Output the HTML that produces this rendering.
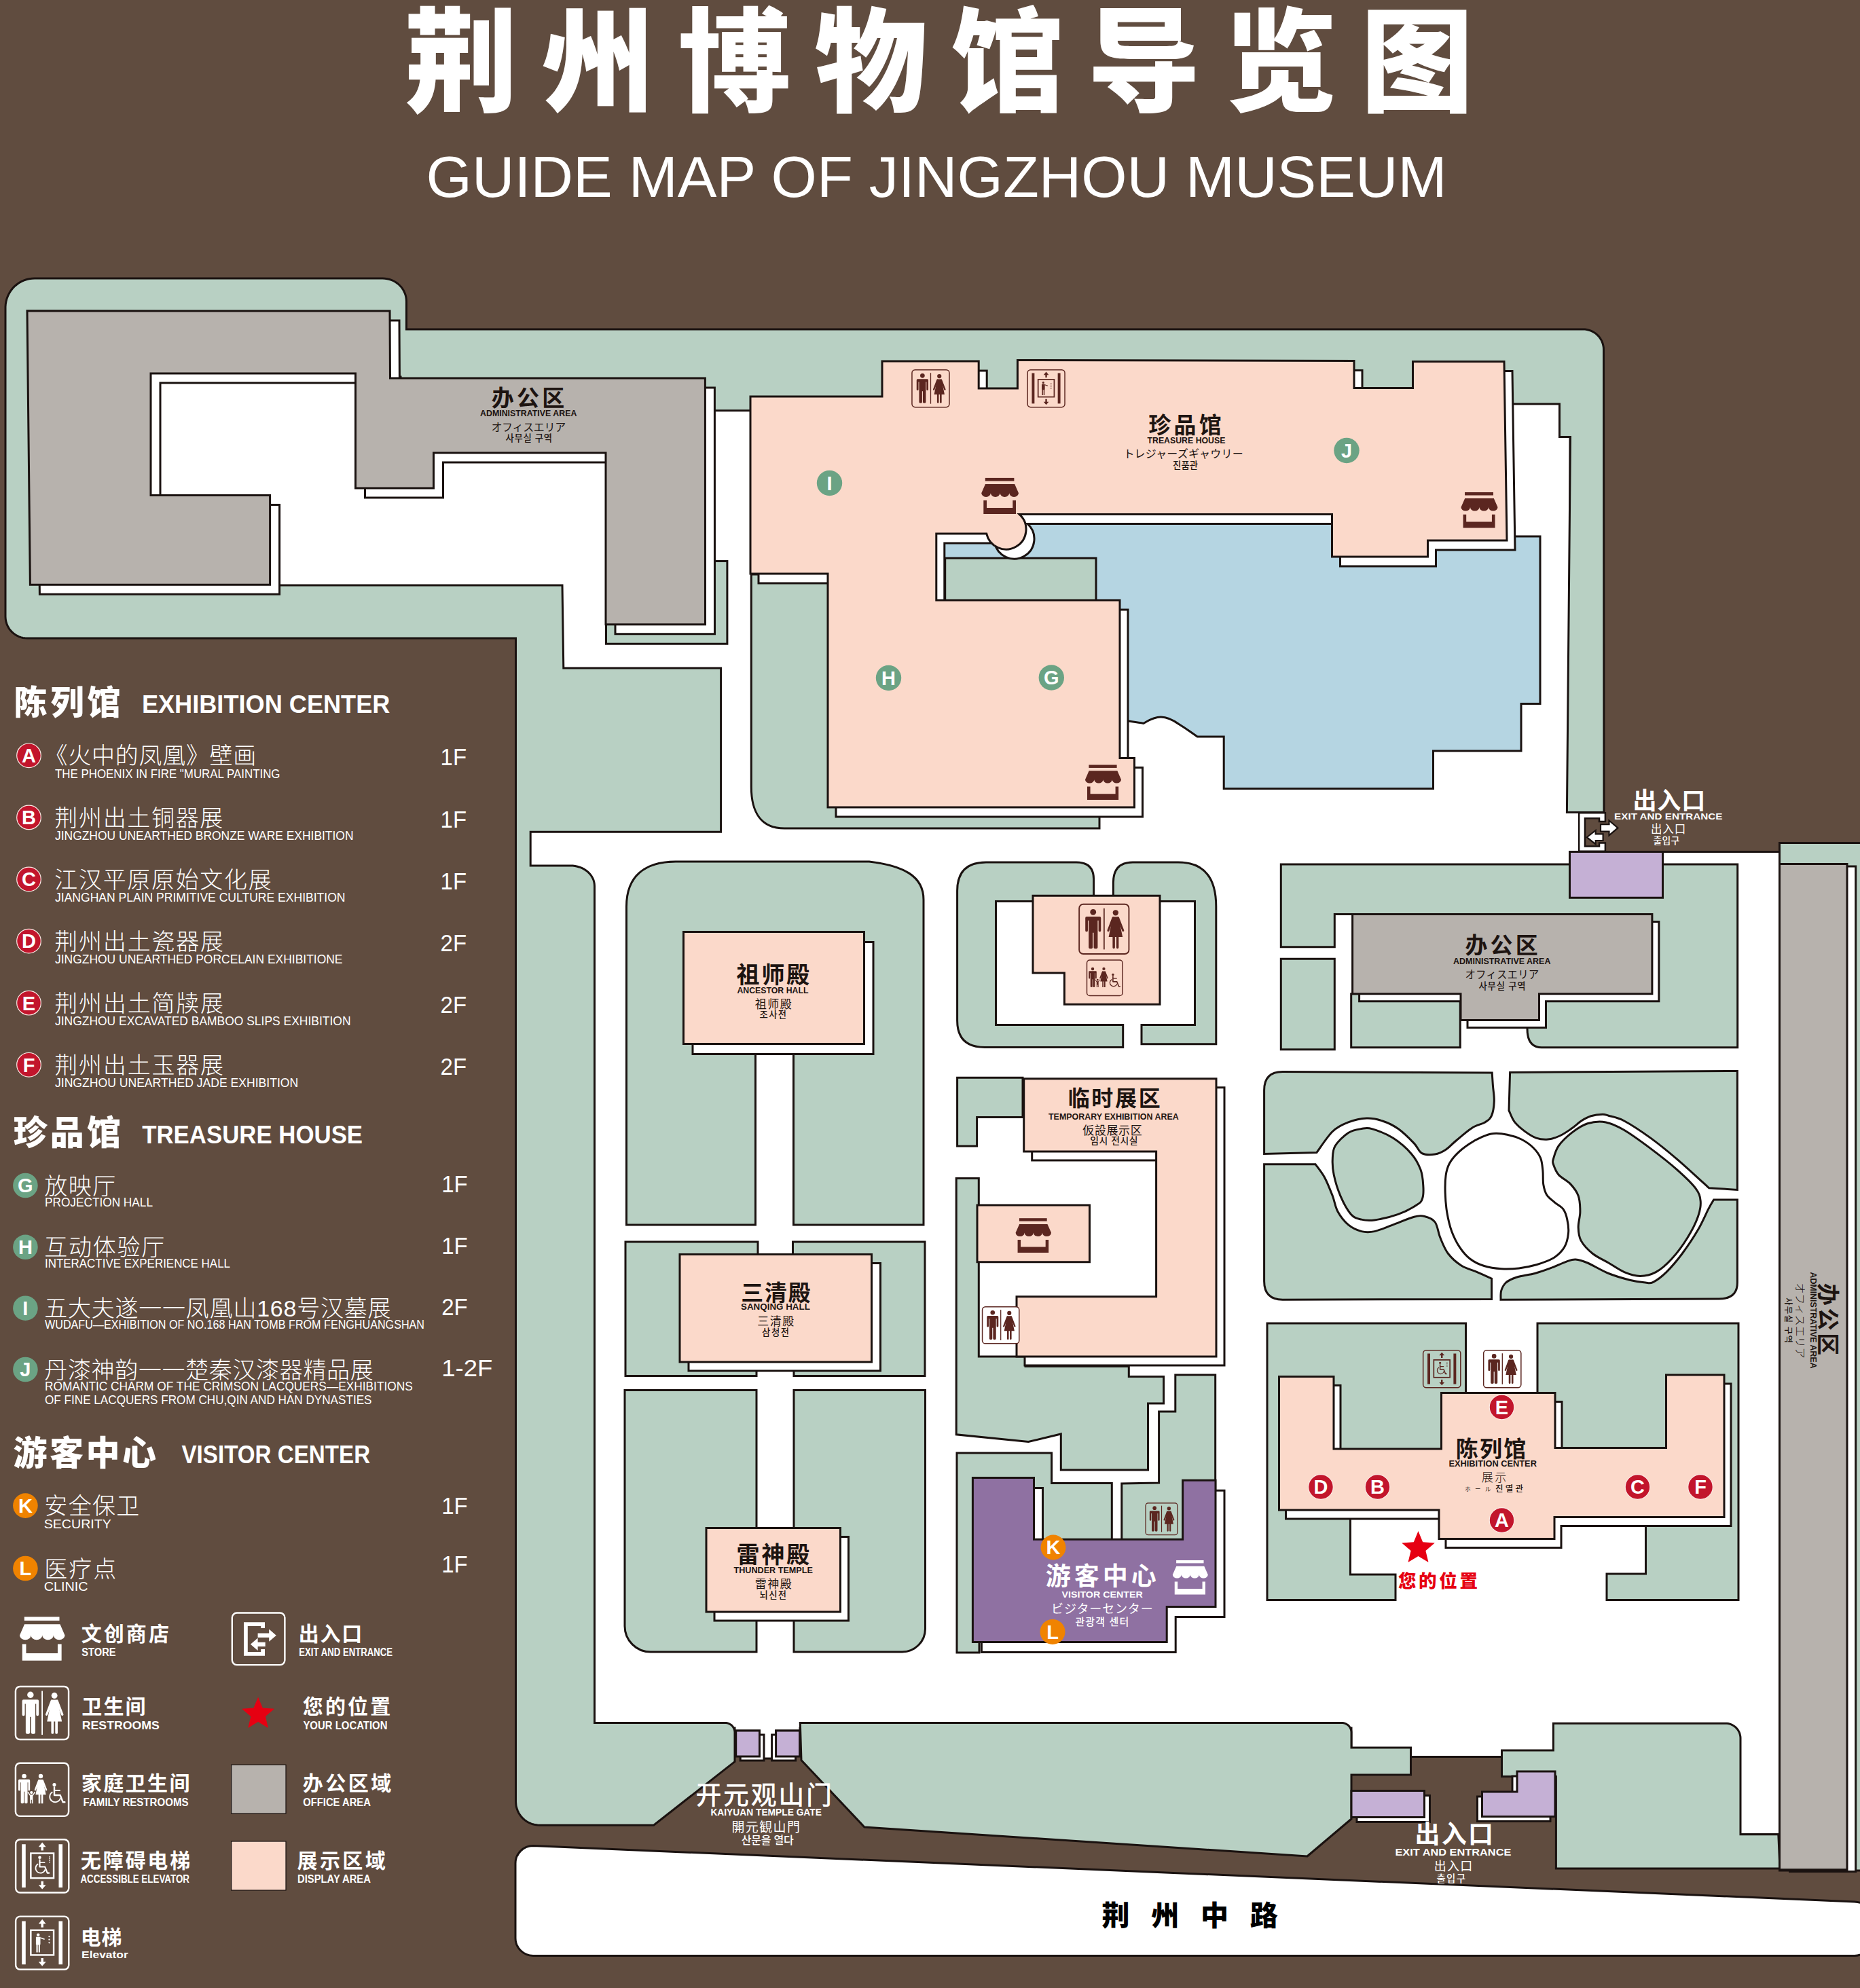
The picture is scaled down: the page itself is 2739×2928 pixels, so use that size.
<!DOCTYPE html>
<html lang="zh"><head><meta charset="utf-8"><title>荆州博物馆导览图</title>
<style>html,body{margin:0;padding:0;background:#604c3f}svg{display:block}text{font-family:"Liberation Sans","Noto Sans CJK SC",sans-serif}
.jp{font-family:"Liberation Sans","Noto Sans CJK JP",sans-serif}.kr{font-family:"Liberation Sans","Noto Sans CJK KR",sans-serif}</style></head>
<body><svg width="2739" height="2928" viewBox="0 0 2739 2928">
<rect width="2739" height="2928" fill="#604c3f"/>
<path d="M825.0,990.0 L1055.0,990.0 L1055.0,1215.0 L770.0,1215.0 L770.0,2545.0 L1082.0,2545.0 L1082.0,2549.0 L1118.5,2549.0 L1118.5,2590.0 L1142.6,2590.0 L1142.6,2549.0 L1178.0,2549.0 L1178.0,2545.0 L1990.0,2545.0 L1990.0,2587.5 L2288.0,2587.5 L2288.0,2545.0 L2300.0,2545.0 L2330.0,2545.0 L2555.0,2545.0 L2555.0,2701.7 L2625.0,2701.7 L2625.0,2545.0 L2630.0,2545.0 L2630.0,1254.5 L2330.0,1254.5 L2330.0,1215.0 L2330.0,1196.5 L2312.0,1196.5 L2312.0,590.0 L1110.0,590.0 L1110.0,550.0 L225.0,550.0 L225.0,870.0 L825.0,870.0Z" fill="#fff" stroke="#1a1210" stroke-width="3" stroke-linejoin="miter" fill-rule="evenodd"/>
<path d="M1110.0,604.8 L1110.0,595.0 L2296.5,595.0 L2296.5,643.5 L2312.5,643.5 L2307.4,1196.5 L2362.0,1196.5 L2361.5,515.0 L2361.4,512.0 L2360.9,509.1 L2360.2,506.2 L2359.2,503.4 L2357.9,500.7 L2356.3,498.2 L2354.6,495.8 L2352.5,493.6 L2350.3,491.6 L2347.9,489.9 L2345.3,488.4 L2342.6,487.1 L2339.8,486.2 L2336.9,485.5 L2334.0,485.1 L2331.0,485.0 L598.5,485.0 L598.5,444.0 L598.3,440.7 L597.8,437.4 L597.0,434.1 L595.8,431.0 L594.4,428.0 L592.6,425.1 L590.6,422.4 L588.2,420.0 L585.7,417.7 L582.9,415.7 L580.0,414.0 L576.9,412.6 L573.7,411.5 L570.3,410.7 L566.9,410.2 L563.5,410.0 L51.0,410.0 L46.8,410.2 L42.7,410.8 L38.7,411.8 L34.8,413.2 L31.0,414.9 L27.4,417.0 L24.1,419.5 L20.9,422.2 L18.1,425.3 L15.6,428.6 L13.4,432.1 L11.6,435.9 L10.1,439.7 L9.0,443.8 L8.3,447.9 L8.0,452.0 L8.0,908.0 L8.2,911.1 L8.6,914.2 L9.4,917.3 L10.4,920.2 L11.8,923.1 L13.4,925.8 L15.3,928.3 L17.4,930.6 L19.7,932.7 L22.2,934.6 L24.9,936.2 L27.8,937.6 L30.7,938.6 L33.8,939.4 L36.9,939.8 L40.0,940.0 L590.0,940.0 L598.0,940.0 L759.5,940.0 L759.5,2653.0 L759.7,2656.5 L760.1,2659.9 L761.0,2663.3 L762.2,2666.6 L763.6,2669.7 L765.4,2672.7 L767.5,2675.5 L769.9,2678.1 L772.4,2680.4 L775.3,2682.4 L778.2,2684.2 L781.4,2685.7 L784.7,2686.8 L788.1,2687.6 L791.5,2688.1 L795.0,2688.2 L962.6,2688.2 L1082.0,2594.6 L1082.0,2551.5 L1081.9,2550.1 L1081.7,2548.8 L1081.4,2547.4 L1080.9,2546.1 L1080.3,2544.9 L1079.6,2543.7 L1078.8,2542.6 L1077.9,2541.6 L1076.9,2540.7 L1075.8,2539.9 L1074.6,2539.2 L1073.4,2538.6 L1072.1,2538.1 L1070.7,2537.8 L1069.4,2537.6 L1068.0,2537.5 L875.5,2537.5 L875.5,1305.0 L875.3,1302.0 L874.8,1299.1 L874.0,1296.2 L872.8,1293.4 L871.3,1290.7 L869.5,1288.2 L867.4,1285.8 L865.1,1283.6 L862.5,1281.7 L859.7,1279.9 L856.7,1278.4 L853.5,1277.2 L850.3,1276.2 L846.9,1275.5 L843.5,1275.1 L840.0,1275.0 L781.2,1275.0 L781.2,1225.3 L1061.6,1225.3 L1061.6,984.0 L829.8,984.0 L828.0,862.0 L598.0,862.0 L590.0,862.0 L393.0,862.0 L393.0,735.0 L230.0,735.0 L230.0,555.0 L590.0,555.0 L590.0,595.0 L1040.0,595.0 L1040.0,604.8Z" fill="#b8d0c3" stroke="#1a1210" stroke-width="3" stroke-linejoin="miter" fill-rule="evenodd"/>
<path d="M2750.0,1241.5 L2620.5,1241.5 L2620.5,2740.6 L2618.8,2701.7 L2563.0,2701.7 L2563.0,2560.0 L2562.9,2557.9 L2562.5,2555.7 L2562.0,2553.7 L2561.3,2551.6 L2560.3,2549.7 L2559.2,2547.9 L2557.9,2546.2 L2556.5,2544.6 L2554.9,2543.1 L2553.2,2541.9 L2551.3,2540.8 L2549.4,2539.9 L2547.4,2539.1 L2545.3,2538.6 L2543.1,2538.3 L2541.0,2538.2 L2287.4,2538.2 L2287.4,2578.0 L2211.5,2578.0 L2211.5,2616.5 L2291.4,2616.5 L2291.4,2752.0 L2620.5,2752.0 L2620.5,2755.0 L2750.0,2755.0Z" fill="#b8d0c3" stroke="#1a1210" stroke-width="3" stroke-linejoin="miter" fill-rule="evenodd"/>
<path d="M1925.0,2734.0 L1990.0,2679.0 L1990.0,2614.0 L2077.5,2614.0 L2077.5,2574.0 L1990.0,2574.0 L1990.0,2551.5 L1989.9,2550.1 L1989.7,2548.8 L1989.4,2547.4 L1988.9,2546.1 L1988.3,2544.9 L1987.6,2543.7 L1986.8,2542.6 L1985.9,2541.6 L1984.9,2540.7 L1983.8,2539.9 L1982.6,2539.2 L1981.4,2538.6 L1980.1,2538.1 L1978.7,2537.8 L1977.4,2537.6 L1976.0,2537.5 L1178.3,2537.5 L1180.0,2592.5 L1272.9,2691.0Z" fill="#b8d0c3" stroke="#1a1210" stroke-width="3" stroke-linejoin="miter" fill-rule="evenodd"/>
<path d="M892.5,826.5 L1070.9,826.5 L1070.9,948.3 L892.5,948.3Z" fill="#b8d0c3" stroke="#1a1210" stroke-width="3" />
<path d="M1106.3,846 V1159 C1106.3,1195 1120,1220 1155,1220 H1619 V1195 H1235 V846 Z" fill="#b8d0c3" stroke="#1a1210" stroke-width="3" />
<path d="M1886.3,1272.9 H2558.7 V1542.7 H2270 Q2249,1542.7 2249,1515 V1400 H2000 V1346.5 H1965.3 V1394.8 H1886.3 Z" fill="#b8d0c3" stroke="#1a1210" stroke-width="3" />
<path d="M1886.3,1412.3 L1965.3,1412.3 L1965.3,1545.8 L1886.3,1545.8Z" fill="#b8d0c3" stroke="#1a1210" stroke-width="3" />
<path d="M1989.7,1463.7 L2150.3,1463.7 L2150.3,1542.7 L1989.7,1542.7Z" fill="#b8d0c3" stroke="#1a1210" stroke-width="3" />
<path d="M1861.6,1699.4 L1861.6,1605.7 Q1861.6,1578.6 1888.7,1578.6 L2197.2,1580.1 C2197.4,1583.2 2197.9,1591.7 2198.4,1598.7 C2198.9,1605.7 2200.6,1614.5 2200.3,1621.9 C2200.0,1629.4 2198.7,1638.1 2196.5,1643.2 C2194.2,1648.4 2191.6,1649.9 2186.8,1652.9 C2181.9,1655.9 2174.5,1656.9 2167.4,1661.4 C2160.3,1665.9 2150.6,1674.6 2144.2,1680.0 C2137.7,1685.4 2133.9,1690.2 2128.7,1693.6 C2123.6,1696.9 2119.0,1699.3 2113.2,1700.1 C2107.4,1701.0 2099.0,1701.3 2093.9,1698.6 C2088.7,1695.9 2088.1,1689.9 2082.3,1683.9 C2076.5,1677.9 2066.8,1668.1 2059.0,1662.6 C2051.3,1657.1 2043.6,1653.5 2035.8,1651.0 C2028.1,1648.4 2021.0,1646.8 2012.6,1647.1 C2004.2,1647.4 1993.9,1649.7 1985.5,1652.9 C1977.1,1656.1 1970.0,1659.0 1962.3,1666.5 C1954.5,1673.9 1942.9,1692.3 1939.0,1697.4 L1861.6,1699.4 Z" fill="#b8d0c3" stroke="#1a1210" stroke-width="3" />
<path d="M1966.1,1687.7 C1970.0,1681.3 1979.0,1672.6 1985.5,1668.4 C1991.9,1664.2 1999.0,1663.5 2004.8,1662.6 C2010.6,1661.6 2012.6,1660.3 2020.3,1662.6 C2028.1,1664.8 2041.6,1670.0 2051.3,1676.1 C2061.0,1682.3 2071.6,1691.6 2078.4,1699.4 C2085.2,1707.1 2089.0,1714.8 2091.9,1722.6 C2094.8,1730.3 2095.4,1738.7 2095.8,1745.8 C2096.3,1752.9 2096.3,1760.3 2094.6,1765.2 C2093.0,1770.0 2092.1,1771.0 2086.1,1774.8 C2080.2,1778.7 2069.4,1784.7 2059.0,1788.4 C2048.7,1792.1 2033.2,1795.6 2024.2,1796.9 C2015.2,1798.2 2010.6,1797.6 2004.8,1796.1 C1999.0,1794.7 1994.5,1794.2 1989.4,1788.4 C1984.2,1782.6 1978.1,1771.0 1973.9,1761.3 C1969.7,1751.6 1966.1,1739.4 1964.2,1730.3 C1962.3,1721.3 1961.9,1714.2 1962.3,1707.1 C1962.6,1700.0 1962.3,1694.2 1966.1,1687.7Z" fill="#b8d0c3" stroke="#1a1210" stroke-width="3" />
<path d="M1861.6,1714.8 L1937.1,1714.8 C1939.4,1718.1 1946.5,1726.5 1950.6,1734.2 C1954.8,1741.9 1959.0,1752.9 1962.3,1761.3 C1965.5,1769.7 1966.1,1777.4 1970.0,1784.5 C1973.9,1791.6 1979.7,1799.0 1985.5,1803.9 C1991.3,1808.7 1998.4,1811.9 2004.8,1813.6 C2011.3,1815.2 2016.5,1815.2 2024.2,1813.6 C2031.9,1811.9 2041.6,1807.4 2051.3,1803.9 C2061.0,1800.3 2074.5,1794.3 2082.3,1792.3 C2090.0,1790.2 2092.6,1790.2 2097.7,1791.5 C2102.9,1792.8 2109.4,1794.7 2113.2,1800.0 C2117.1,1805.3 2117.7,1815.5 2121.0,1823.2 C2124.2,1831.0 2127.4,1839.7 2132.6,1846.5 C2137.7,1853.2 2144.8,1859.4 2151.9,1863.9 C2159.0,1868.4 2167.7,1870.3 2175.2,1873.6 C2182.6,1876.8 2192.9,1881.6 2196.5,1883.2 L2196.5,1913.4 L1888.7,1914.2 Q1861.6,1914.2 1861.6,1887.1 Z" fill="#b8d0c3" stroke="#1a1210" stroke-width="3" />
<path d="M2223.6,1579.4 L2558.4,1577.4 L2558.4,1752.4 L2516.6,1749.7 C2515.2,1748.4 2515.9,1749.0 2508.1,1741.9 C2500.2,1734.8 2482.3,1718.1 2469.4,1707.1 C2456.5,1696.1 2443.6,1685.5 2430.7,1676.1 C2417.7,1666.8 2402.3,1656.5 2391.9,1651.0 C2381.6,1645.5 2374.1,1644.8 2368.7,1643.2 C2363.4,1641.6 2364.1,1641.2 2359.8,1641.3 C2355.5,1641.4 2347.9,1642.3 2342.8,1643.8 C2337.7,1645.4 2334.1,1647.5 2329.2,1650.6 C2324.4,1653.7 2319.2,1658.8 2313.7,1662.6 C2308.3,1666.3 2302.4,1670.5 2296.7,1673.0 C2291.0,1675.6 2285.4,1677.5 2279.7,1678.1 C2273.9,1678.6 2268.0,1678.1 2262.3,1676.1 C2256.5,1674.1 2250.6,1670.1 2245.2,1666.1 C2239.9,1662.1 2234.0,1657.2 2230.1,1652.1 C2226.3,1647.0 2223.4,1638.3 2222.0,1635.5 Z" fill="#b8d0c3" stroke="#1a1210" stroke-width="3" />
<path d="M2287.4,1707.1 C2288.7,1702.6 2290.7,1694.2 2295.2,1687.7 C2299.7,1681.3 2307.4,1673.9 2314.5,1668.4 C2321.6,1662.9 2329.4,1657.4 2337.7,1654.8 C2346.1,1652.3 2355.8,1651.3 2364.8,1652.9 C2373.9,1654.5 2381.0,1658.1 2391.9,1664.5 C2402.9,1671.0 2417.7,1681.9 2430.7,1691.6 C2443.6,1701.3 2458.4,1712.9 2469.4,1722.6 C2480.3,1732.3 2490.7,1741.9 2496.5,1749.7 C2502.3,1757.4 2503.6,1761.9 2504.2,1769.0 C2504.8,1776.1 2503.6,1783.2 2500.3,1792.3 C2497.1,1801.3 2491.3,1812.9 2484.8,1823.2 C2478.4,1833.6 2469.4,1845.8 2461.6,1854.2 C2453.9,1862.6 2446.1,1869.4 2438.4,1873.6 C2430.7,1877.7 2422.9,1879.4 2415.2,1879.4 C2407.4,1879.4 2399.7,1876.8 2391.9,1873.6 C2384.2,1870.3 2376.5,1864.5 2368.7,1860.0 C2361.0,1855.5 2352.3,1851.9 2345.5,1846.5 C2338.7,1841.0 2331.6,1833.6 2328.1,1827.1 C2324.5,1820.6 2324.4,1814.8 2324.2,1807.7 C2324.0,1800.6 2326.9,1792.3 2326.9,1784.5 C2326.9,1776.8 2326.6,1768.1 2324.2,1761.3 C2321.8,1754.5 2317.4,1749.0 2312.6,1743.9 C2307.7,1738.7 2299.4,1735.2 2295.2,1730.3 C2291.0,1725.5 2288.7,1718.7 2287.4,1714.8 C2286.1,1711.0 2286.1,1711.6 2287.4,1707.1Z" fill="#b8d0c3" stroke="#1a1210" stroke-width="3" />
<path d="M2210.0,1914.2 C2210.1,1911.9 2209.5,1904.8 2210.8,1900.6 C2212.1,1896.5 2214.0,1892.3 2217.7,1889.0 C2221.5,1885.8 2226.1,1883.6 2233.2,1881.3 C2240.3,1879.0 2251.9,1877.7 2260.3,1875.5 C2268.7,1873.2 2275.8,1870.6 2283.6,1867.7 C2291.3,1864.8 2300.7,1860.2 2306.8,1858.1 C2312.9,1855.9 2315.2,1854.6 2320.3,1855.0 C2325.5,1855.3 2329.7,1856.6 2337.7,1860.0 C2345.8,1863.4 2358.4,1871.3 2368.7,1875.5 C2379.0,1879.7 2390.7,1882.9 2399.7,1885.2 C2408.7,1887.4 2417.1,1888.5 2422.9,1889.0 C2428.7,1889.6 2429.4,1890.8 2434.5,1888.3 C2439.7,1885.7 2446.8,1880.5 2453.9,1873.6 C2461.0,1866.6 2469.4,1856.8 2477.1,1846.5 C2484.8,1836.1 2493.9,1822.6 2500.3,1811.6 C2506.8,1800.6 2511.9,1788.1 2515.8,1780.6 C2519.7,1773.2 2522.3,1769.4 2523.6,1767.1 L2558.4,1767.1 L2558.4,1889.0 Q2558.4,1913.0 2531.3,1913.0 Z" fill="#b8d0c3" stroke="#1a1210" stroke-width="3" />
<path d="M1866.0,1949.0 L2158.5,1949.0 L2158.5,2230.0 L1988.5,2230.0 L1988.5,2319.0 L2055.0,2319.0 L2055.0,2356.5 L1866.0,2356.5Z" fill="#b8d0c3" stroke="#1a1210" stroke-width="3" />
<path d="M2264.0,1949.0 L2560.0,1949.0 L2560.0,2356.5 L2366.0,2356.5 L2366.0,2318.0 L2423.5,2318.0 L2423.5,2238.0 L2264.0,2238.0Z" fill="#b8d0c3" stroke="#1a1210" stroke-width="3" />
<path d="M922.5,1804 V1335 C922.5,1290 950,1269 995,1269 H1280 C1330,1275 1360,1290 1360,1325 V1804 H1168.5 V1545 H1112.5 V1804 Z" fill="#b8d0c3" stroke="#1a1210" stroke-width="3" />
<path d="M921,1829 H1116 V1855 H1167.5 V1829 H1362 V2026.5 H1169 V2010 H1114 V2026.5 H921 Z" fill="#b8d0c3" stroke="#1a1210" stroke-width="3" />
<path d="M920,2047.5 H1114 V2433 H958 A38,38 0 0 1 920,2395 Z" fill="#b8d0c3" stroke="#1a1210" stroke-width="3" />
<path d="M1169,2047.5 H1362.5 V2399 A34,34 0 0 1 1328.5,2433 H1169 Z" fill="#b8d0c3" stroke="#1a1210" stroke-width="3" />
<path d="M1466.5,1327.4 H1610.6 V1295 Q1610.6,1270 1585,1270 H1452 Q1409.6,1270 1409.6,1312 V1503 Q1409.6,1542.4 1450,1542.4 H1653.7 V1509.4 H1466.5 Z" fill="#b8d0c3" stroke="#1a1210" stroke-width="3" />
<path d="M1639.4,1327.4 V1300 Q1639.4,1270 1668,1270 H1735 Q1790.8,1270 1790.8,1335 V1537.8 H1681 V1509.4 H1759.5 V1327.4 Z" fill="#b8d0c3" stroke="#1a1210" stroke-width="3" />
<path d="M1409.6,1587.3 L1506.0,1587.3 L1506.0,1645.4 L1438.6,1645.4 L1438.6,1688.0 L1409.6,1688.0Z" fill="#b8d0c3" stroke="#1a1210" stroke-width="3" />
<path d="M1408.2,1735.6 L1441.3,1735.6 L1441.3,1998.0 L1510.0,1998.0 L1510.0,2012.5 L1662.3,2012.5 L1662.3,2027.6 L1713.6,2027.6 L1713.6,2067.0 L1690.5,2067.0 L1690.5,2165.0 L1562.3,2165.0 L1562.3,2112.0 L1514.4,2123.5 L1408.2,2112.8Z" fill="#b8d0c3" stroke="#1a1210" stroke-width="3" />
<path d="M1730.8,2025.0 L1789.7,2025.0 L1789.7,2270.0 L1651.8,2270.0 L1651.8,2185.0 L1706.6,2184.0 L1706.6,2079.0 L1730.8,2079.0Z" fill="#b8d0c3" stroke="#1a1210" stroke-width="3" />
<path d="M1409.0,2140.0 L1548.6,2140.0 L1548.6,2184.5 L1637.3,2184.5 L1637.3,2270.0 L1442.0,2270.0 L1442.0,2434.0 L1409.0,2434.0Z" fill="#b8d0c3" stroke="#1a1210" stroke-width="3" />
<path d="M2199.2,1669.5 C2205.5,1668.9 2212.9,1669.8 2219.7,1671.2 C2226.6,1672.6 2234.0,1674.9 2240.3,1678.0 C2246.5,1681.2 2252.7,1685.4 2257.4,1690.0 C2262.1,1694.6 2266.1,1699.7 2268.5,1705.4 C2270.9,1711.1 2271.2,1717.7 2271.9,1724.2 C2272.6,1730.8 2271.8,1738.8 2272.8,1744.7 C2273.8,1750.7 2275.0,1755.7 2277.9,1760.1 C2280.8,1764.6 2285.9,1767.8 2289.9,1771.3 C2293.9,1774.7 2298.9,1776.5 2301.8,1780.7 C2304.8,1784.8 2306.6,1790.1 2307.8,1796.1 C2309.1,1802.0 2310.3,1809.7 2309.5,1816.6 C2308.8,1823.4 2307.1,1831.1 2303.6,1837.1 C2300.0,1843.1 2295.0,1848.2 2288.2,1852.5 C2281.3,1856.8 2271.1,1860.2 2262.5,1862.8 C2254.0,1865.3 2245.4,1866.9 2236.8,1867.9 C2228.3,1868.9 2219.7,1869.3 2211.2,1868.8 C2202.6,1868.2 2193.2,1866.9 2185.5,1864.5 C2177.8,1862.1 2171.0,1858.8 2165.0,1854.2 C2159.0,1849.7 2154.2,1844.0 2149.6,1837.1 C2145.0,1830.3 2140.8,1821.7 2137.6,1813.2 C2134.5,1804.6 2132.4,1795.2 2130.8,1785.8 C2129.2,1776.4 2128.5,1765.8 2128.2,1756.7 C2127.9,1747.6 2128.1,1738.2 2129.1,1731.1 C2130.1,1723.9 2131.4,1719.4 2134.2,1714.0 C2137.1,1708.5 2141.3,1703.4 2146.2,1698.6 C2151.0,1693.7 2157.3,1688.9 2163.3,1684.9 C2169.3,1680.9 2176.1,1677.2 2182.1,1674.6 C2188.1,1672.0 2192.9,1670.0 2199.2,1669.5Z" fill="#fff" stroke="#1a1210" stroke-width="3" />
<path d="M1385,765 H2225 V790 H2268 V1036.5 H2240 V1106 H2110.5 V1161.5 H1802.2 V1085 H1763.2 C1750,1076 1745,1072 1736.3,1066.8 C1727,1060 1718,1056 1709.5,1056 C1698,1056 1690,1062 1684,1065.4 C1676,1064 1668,1063 1661,1062 H1650 V900 H1385 Z" fill="#b5d5e2" stroke="#1a1210" stroke-width="3" />
<path d="M1391.7,822.0 L1614.0,822.0 L1614.0,890.0 L1391.7,890.0Z" fill="#b8d0c3" stroke="#1a1210" stroke-width="3" />
<path d="M785,2718.6 L2731,2800.9 Q2739,2801.2 2745,2805 V2876 Q2739,2880.4 2731,2880.4 H785 A26,26 0 0 1 759,2854.4 V2744.5 A26,26 0 0 1 785,2718.6 Z" fill="#fff" stroke="#1a1210" stroke-width="3" />
<path d="M54.0,471.8 L588.0,472.0 L588.5,571.0 L1052.4,571.0 L1052.5,933.8 L906.0,933.8 L906.0,681.0 L652.5,681.0 L652.5,733.0 L537.5,733.0 L537.5,564.0 L236.0,564.0 L236.0,743.5 L411.6,743.5 L411.6,875.3 L58.4,875.3Z" fill="#fff" stroke="#1a1210" stroke-width="3" />
<path d="M40.0,457.8 L574.0,458.0 L574.5,557.0 L1038.4,557.0 L1038.5,919.8 L892.0,919.8 L892.0,667.0 L638.5,667.0 L638.5,719.0 L523.5,719.0 L523.5,550.0 L222.0,550.0 L222.0,729.5 L397.6,729.5 L397.6,861.3 L44.4,861.3Z" fill="#b7b2ad" stroke="#1a1210" stroke-width="3" />
<path d="M1117.0,598.0 L1311.0,598.0 L1311.0,546.0 L1453.2,546.0 L1453.2,586.0 L1510.4,586.0 L1510.4,544.5 L2006.0,545.5 L2006.0,585.5 L2092.5,585.5 L2092.5,546.5 L2227.0,546.5 L2231.0,810.0 L2114.5,810.0 L2114.5,834.0 L1973.5,834.0 L1973.5,771.6 L1513.2,771.6 A29.5,29.5 0 1 1 1464.7,799.9 L1390.8,799.9 L1390.8,898.0 L1661.0,898.0 L1661.0,1130.5 L1682.5,1130.5 L1682.5,1203.0 L1231.0,1203.0 L1231.0,859.0 L1117.0,859.0Z" fill="#fff" stroke="#1a1210" stroke-width="3" />
<path d="M1105.0,584.0 L1299.0,584.0 L1299.0,532.0 L1441.2,532.0 L1441.2,572.0 L1498.4,572.0 L1498.4,530.5 L1994.0,531.5 L1994.0,571.5 L2080.5,571.5 L2080.5,532.5 L2215.0,532.5 L2219.0,796.0 L2102.5,796.0 L2102.5,820.0 L1961.5,820.0 L1961.5,757.6 L1501.2,757.6 A29.5,29.5 0 1 1 1452.7,785.9 L1378.8,785.9 L1378.8,884.0 L1649.0,884.0 L1649.0,1116.5 L1670.5,1116.5 L1670.5,1189.0 L1219.0,1189.0 L1219.0,845.0 L1105.0,845.0Z" fill="#fbd9ca" stroke="#1a1210" stroke-width="3" />
<path d="M2001.6,1357.5 L2442.9,1357.5 L2442.9,1474.7 L2276.5,1474.7 L2276.5,1513.5 L2161.0,1513.5 L2161.0,1474.7 L2001.6,1474.7Z" fill="#fff" stroke="#1a1210" stroke-width="3" />
<path d="M1991.6,1346.5 L2432.9,1346.5 L2432.9,1463.7 L2266.5,1463.7 L2266.5,1502.5 L2151.0,1502.5 L2151.0,1463.7 L1991.6,1463.7Z" fill="#b7b2ad" stroke="#1a1210" stroke-width="3" />
<path d="M2635.5,1276.0 L2732.7,1276.0 L2732.7,2756.5 L2635.5,2756.5Z" fill="#fff" stroke="#1a1210" stroke-width="3" />
<path d="M2620.5,1272.5 L2720.0,1272.5 L2720.0,2753.8 L2620.5,2753.8Z" fill="#b7b2ad" stroke="#1a1210" stroke-width="3" />
<path d="M1020.0,1387.5 L1286.0,1387.5 L1286.0,1552.5 L1020.0,1552.5Z" fill="#fff" stroke="#1a1210" stroke-width="3" />
<path d="M1006.5,1372.5 L1272.5,1372.5 L1272.5,1537.5 L1006.5,1537.5Z" fill="#fbd9ca" stroke="#1a1210" stroke-width="3" />
<path d="M1014.0,1860.5 L1296.5,1860.5 L1296.5,2019.0 L1014.0,2019.0Z" fill="#fff" stroke="#1a1210" stroke-width="3" />
<path d="M1001.0,1847.5 L1283.5,1847.5 L1283.5,2006.0 L1001.0,2006.0Z" fill="#fbd9ca" stroke="#1a1210" stroke-width="3" />
<path d="M1052.0,2263.5 L1249.5,2263.5 L1249.5,2387.0 L1052.0,2387.0Z" fill="#fff" stroke="#1a1210" stroke-width="3" />
<path d="M1040.0,2250.5 L1237.5,2250.5 L1237.5,2374.0 L1040.0,2374.0Z" fill="#fbd9ca" stroke="#1a1210" stroke-width="3" />
<path d="M1521.0,1319.3 L1708.0,1319.3 L1708.0,1479.2 L1567.4,1479.2 L1567.4,1433.0 L1521.0,1433.0Z" fill="#fbd9ca" stroke="#1a1210" stroke-width="3" />
<path d="M1519.7,1601.7 L1803.0,1601.7 L1803.0,2011.0 L1509.0,2011.0 L1509.0,1922.8 L1714.6,1922.8 L1714.6,1709.1 L1519.7,1709.1Z" fill="#fff" stroke="#1a1210" stroke-width="3" />
<path d="M1507.7,1588.7 L1791.0,1588.7 L1791.0,1998.0 L1497.0,1998.0 L1497.0,1909.8 L1702.6,1909.8 L1702.6,1696.1 L1507.7,1696.1Z" fill="#fbd9ca" stroke="#1a1210" stroke-width="3" />
<path d="M1439.0,1775.0 L1604.5,1775.0 L1604.5,1858.8 L1439.0,1858.8Z" fill="#fbd9ca" stroke="#1a1210" stroke-width="3" />
<path d="M1445.4,2191.6 L1535.5,2191.6 L1535.5,2282.2 L1754.6,2282.2 L1754.6,2195.3 L1803.0,2195.3 L1803.0,2381.6 L1731.2,2381.6 L1731.2,2433.5 L1445.4,2433.5Z" fill="#fff" stroke="#1a1210" stroke-width="3" />
<path d="M1432.4,2176.6 L1522.5,2176.6 L1522.5,2267.2 L1741.6,2267.2 L1741.6,2180.3 L1790.0,2180.3 L1790.0,2366.6 L1718.2,2366.6 L1718.2,2418.5 L1432.4,2418.5Z" fill="#8f71a2" stroke="#1a1210" stroke-width="3" />
<path d="M1893.5,2040.5 L1974.0,2040.5 L1974.0,2147.0 L2132.5,2147.0 L2132.5,2064.5 L2300.0,2064.5 L2300.0,2145.5 L2463.5,2145.5 L2463.5,2038.0 L2549.0,2038.0 L2549.0,2247.5 L2299.0,2247.5 L2299.0,2279.5 L2129.0,2279.5 L2129.0,2237.0 L1893.5,2237.0Z" fill="#fff" stroke="#1a1210" stroke-width="3" />
<path d="M1883.5,2027.5 L1964.0,2027.5 L1964.0,2134.0 L2122.5,2134.0 L2122.5,2051.5 L2290.0,2051.5 L2290.0,2132.5 L2453.5,2132.5 L2453.5,2025.0 L2539.0,2025.0 L2539.0,2234.5 L2289.0,2234.5 L2289.0,2266.5 L2119.0,2266.5 L2119.0,2224.0 L1883.5,2224.0Z" fill="#fbd9ca" stroke="#1a1210" stroke-width="3" />
<path d="M1090.2,2555.0 L1125.0,2555.0 L1125.0,2593.1 L1090.2,2593.1Z" fill="#fff" stroke="#1a1210" stroke-width="3" />
<path d="M1083.7,2549.0 L1118.5,2549.0 L1118.5,2587.1 L1083.7,2587.1Z" fill="#c5b0d5" stroke="#1a1210" stroke-width="3" />
<path d="M1136.6,2555.0 L1171.6,2555.0 L1171.6,2593.1 L1136.6,2593.1Z" fill="#fff" stroke="#1a1210" stroke-width="3" />
<path d="M1142.6,2549.0 L1177.6,2549.0 L1177.6,2587.1 L1142.6,2587.1Z" fill="#c5b0d5" stroke="#1a1210" stroke-width="3" />
<path d="M1998.0,2644.5 L2105.5,2644.5 L2105.5,2683.5 L1998.0,2683.5Z" fill="#fff" stroke="#1a1210" stroke-width="3" />
<path d="M1990.0,2637.5 L2097.5,2637.5 L2097.5,2676.5 L1990.0,2676.5Z" fill="#c5b0d5" stroke="#1a1210" stroke-width="3" />
<path d="M2227.0,2616.0 L2283.0,2616.0 L2283.0,2682.5 L2175.5,2682.5 L2175.5,2646.0 L2227.0,2646.0Z" fill="#fff" stroke="#1a1210" stroke-width="3" />
<path d="M2234.0,2609.0 L2290.0,2609.0 L2290.0,2675.5 L2182.5,2675.5 L2182.5,2639.0 L2234.0,2639.0Z" fill="#c5b0d5" stroke="#1a1210" stroke-width="3" />
<path d="M2311.5,1254.5 L2448.5,1254.5 L2448.5,1322.3 L2311.5,1322.3Z" fill="#c5b0d5" stroke="#1a1210" stroke-width="3" />
<rect x="2334" y="1205.3" width="32" height="41.2" fill="#604c3f"/>
<path d="M2325.2,1197.3 L2363.9,1197.3 L2363.9,1210.0 L2355.0,1210.0 L2355.0,1205.3 L2334.0,1205.3 L2334.0,1246.5 L2355.0,1246.5 L2355.0,1241.6 L2363.9,1241.6 L2363.9,1253.7 L2325.2,1253.7Z" fill="#fff" stroke="#1a1210" stroke-width="2.5" />
<path d="M2357.0,1214.2 L2369.5,1214.2 L2369.5,1208.5 L2382.4,1219.4 L2369.5,1230.3 L2369.5,1224.7 L2357.0,1224.7Z" fill="#fff" stroke="#1a1210" stroke-width="2.2" />
<path d="M2360.6,1228.4 L2349.7,1228.4 L2349.7,1223.0 L2336.8,1233.2 L2349.7,1243.4 L2349.7,1238.0 L2360.6,1238.0Z" fill="#fff" stroke="#1a1210" stroke-width="2.2" />
<g transform="translate(1342.3,544.0) scale(1.0054)" fill="#5b2620"><rect x="0.65" y="0.65" width="54.7" height="54.7" rx="4.5" fill="none" stroke="#5b2620" stroke-width="1.5"/><circle cx="16" cy="9.3" r="3.3"/><path d="M8.8,14.2 H23.2 Q24.6,14.2 24.6,15.8 V29.5 Q24.6,30.9 23.2,30.9 Q21.9,30.9 21.9,29.5 V18.5 H21 V48 Q21,49.6 18.8,49.6 Q16.6,49.6 16.6,48 V32 H15.5 V48 Q15.5,49.6 13.3,49.6 Q11.1,49.6 11.1,48 V18.5 H10.2 V29.5 Q10.2,30.9 8.8,30.9 Q7.4,30.9 7.4,29.5 V15.8 Q7.4,14.2 8.8,14.2Z"/><rect x="27.4" y="5.2" width="1.3" height="45.2"/><circle cx="40.7" cy="10" r="3.1"/><path d="M37.6,14.4 H43.8 L48.4,36.7 H33.1 Z"/><path d="M37.9,15.6 L32.6,29.6 M43.5,15.6 L48.9,29.6" stroke="#5b2620" stroke-width="2.3" stroke-linecap="round" fill="none"/><path d="M37.4,36 H40 V48.3 Q40,49.6 38.7,49.6 Q37.4,49.6 37.4,48.3Z M41.5,36 H44.1 V48.3 Q44.1,49.6 42.8,49.6 Q41.5,49.6 41.5,48.3Z"/></g>
<g transform="translate(1512.4,544.0) scale(1.0054)" fill="#5b2620"><rect x="0.65" y="0.65" width="54.7" height="54.7" rx="4.5" fill="none" stroke="#5b2620" stroke-width="1.5"/><rect x="7" y="5.5" width="3.9" height="44.6"/><rect x="45" y="5.5" width="3.9" height="44.6"/><rect x="16.2" y="14.8" width="23.6" height="25.6" fill="none" stroke="#5b2620" stroke-width="1.7"/><path d="M28,3.6 L31.8,8.3 H29.2 V12 H26.8 V8.3 H24.2Z M28,51.9 L31.8,47.5 H29.2 V43.6 H26.8 V47.5 H24.2Z"/><circle cx="23.8" cy="19.6" r="1.6"/><path d="M21.5,21.8 H26.1 V29.6 H25.7 V37.7 H24.2 V30 H23.4 V37.7 H21.9 V29.6 H21.5Z"/><path d="M26,22.6 L30.4,24.2" stroke="#5b2620" stroke-width="1.1" fill="none"/><circle cx="35.2" cy="21.3" r="0.8"/><circle cx="35.2" cy="24.5" r="0.8"/><circle cx="35.2" cy="27.7" r="0.8"/></g>
<g transform="translate(1445.2,703.9) scale(1.0000)" fill="#5b2620"><rect x="5.6" y="0" width="42.6" height="4.6"/><path d="M5.8,9.1 H49 L54.8,22.4 a6.85,5.6 0 0 1 -13.7,0 a6.85,5.6 0 0 1 -13.7,0 a6.85,5.6 0 0 1 -13.7,0 a6.85,5.6 0 0 1 -13.7,0 Z"/><path d="M3.1,33.2 H7.8 V44.2 H46.1 V33.2 H50.8 V53.2 H3.1Z"/></g>
<g transform="translate(1598.0,1126.5) scale(0.9672)" fill="#5b2620"><rect x="5.6" y="0" width="42.6" height="4.6"/><path d="M5.8,9.1 H49 L54.8,22.4 a6.85,5.6 0 0 1 -13.7,0 a6.85,5.6 0 0 1 -13.7,0 a6.85,5.6 0 0 1 -13.7,0 a6.85,5.6 0 0 1 -13.7,0 Z"/><path d="M3.1,33.2 H7.8 V44.2 H46.1 V33.2 H50.8 V53.2 H3.1Z"/></g>
<g transform="translate(2151.5,725.0) scale(0.9854)" fill="#5b2620"><rect x="5.6" y="0" width="42.6" height="4.6"/><path d="M5.8,9.1 H49 L54.8,22.4 a6.85,5.6 0 0 1 -13.7,0 a6.85,5.6 0 0 1 -13.7,0 a6.85,5.6 0 0 1 -13.7,0 a6.85,5.6 0 0 1 -13.7,0 Z"/><path d="M3.1,33.2 H7.8 V44.2 H46.1 V33.2 H50.8 V53.2 H3.1Z"/></g>
<g transform="translate(1588.3,1330.9) scale(1.3393)" fill="#5b2620"><rect x="0.65" y="0.65" width="54.7" height="54.7" rx="4.5" fill="none" stroke="#5b2620" stroke-width="1.4"/><circle cx="16" cy="9.3" r="3.3"/><path d="M8.8,14.2 H23.2 Q24.6,14.2 24.6,15.8 V29.5 Q24.6,30.9 23.2,30.9 Q21.9,30.9 21.9,29.5 V18.5 H21 V48 Q21,49.6 18.8,49.6 Q16.6,49.6 16.6,48 V32 H15.5 V48 Q15.5,49.6 13.3,49.6 Q11.1,49.6 11.1,48 V18.5 H10.2 V29.5 Q10.2,30.9 8.8,30.9 Q7.4,30.9 7.4,29.5 V15.8 Q7.4,14.2 8.8,14.2Z"/><rect x="27.4" y="5.2" width="1.3" height="45.2"/><circle cx="40.7" cy="10" r="3.1"/><path d="M37.6,14.4 H43.8 L48.4,36.7 H33.1 Z"/><path d="M37.9,15.6 L32.6,29.6 M43.5,15.6 L48.9,29.6" stroke="#5b2620" stroke-width="2.3" stroke-linecap="round" fill="none"/><path d="M37.4,36 H40 V48.3 Q40,49.6 38.7,49.6 Q37.4,49.6 37.4,48.3Z M41.5,36 H44.1 V48.3 Q44.1,49.6 42.8,49.6 Q41.5,49.6 41.5,48.3Z"/></g>
<g transform="translate(1599.9,1413.4) scale(0.9607)" fill="#5b2620"><rect x="0.65" y="0.65" width="54.7" height="54.7" rx="4.5" fill="none" stroke="#5b2620" stroke-width="1.5"/><g transform="translate(-1.7,7.6) scale(0.70)"><circle cx="16" cy="9.3" r="3.3"/><path d="M8.8,14.2 H23.2 Q24.6,14.2 24.6,15.8 V29.5 Q24.6,30.9 23.2,30.9 Q21.9,30.9 21.9,29.5 V18.5 H21 V48 Q21,49.6 18.8,49.6 Q16.6,49.6 16.6,48 V32 H15.5 V48 Q15.5,49.6 13.3,49.6 Q11.1,49.6 11.1,48 V18.5 H10.2 V29.5 Q10.2,30.9 8.8,30.9 Q7.4,30.9 7.4,29.5 V15.8 Q7.4,14.2 8.8,14.2Z"/></g><g transform="translate(-1.9,7.6) scale(0.70)"><circle cx="40.7" cy="9.3" r="3.2"/><path d="M37.6,14.4 H43.8 L48.4,36.7 H33.1 Z"/><path d="M37.9,15.6 L32.6,29.6 M43.5,15.6 L48.9,29.6" stroke="#5b2620" stroke-width="2.3" stroke-linecap="round" fill="none"/><path d="M37.4,36 H40 V49.6 H37.4Z M41.5,36 H44.1 V49.6 H41.5Z"/></g><circle cx="17" cy="31" r="1.5"/><path d="M15.5,33.2 H18.5 V42.3 H17.4 V38.5 H16.6 V42.3 H15.5Z"/><path d="M15.6,33.8 L13.4,30.6 M18.4,33.8 L20.6,30.6" stroke="#5b2620" stroke-width="1" stroke-linecap="round" fill="none"/><g transform="translate(40.60,23.00) scale(1.120)"><circle cx="0" cy="0" r="1.6"/><path d="M0,2.4 V9.6 H5.4 L7.9,16 H9.6" fill="none" stroke="#5b2620" stroke-width="1.5" stroke-linejoin="round" stroke-linecap="round"/><path d="M0,5.2 H5" fill="none" stroke="#5b2620" stroke-width="1.2" stroke-linecap="round"/><path d="M-1.6,6.6 A5,5 0 1 0 5.6,12.4" fill="none" stroke="#5b2620" stroke-width="1.2"/></g></g>
<g transform="translate(1495.6,1794.2) scale(0.9562)" fill="#5b2620"><rect x="5.6" y="0" width="42.6" height="4.6"/><path d="M5.8,9.1 H49 L54.8,22.4 a6.85,5.6 0 0 1 -13.7,0 a6.85,5.6 0 0 1 -13.7,0 a6.85,5.6 0 0 1 -13.7,0 a6.85,5.6 0 0 1 -13.7,0 Z"/><path d="M3.1,33.2 H7.8 V44.2 H46.1 V33.2 H50.8 V53.2 H3.1Z"/></g>
<g transform="translate(1445.9,1924.0) scale(0.9911)" fill="#5b2620"><rect x="0.65" y="0.65" width="54.7" height="54.7" rx="4.5" fill="#fff" stroke="#5b2620" stroke-width="1.5"/><circle cx="16" cy="9.3" r="3.3"/><path d="M8.8,14.2 H23.2 Q24.6,14.2 24.6,15.8 V29.5 Q24.6,30.9 23.2,30.9 Q21.9,30.9 21.9,29.5 V18.5 H21 V48 Q21,49.6 18.8,49.6 Q16.6,49.6 16.6,48 V32 H15.5 V48 Q15.5,49.6 13.3,49.6 Q11.1,49.6 11.1,48 V18.5 H10.2 V29.5 Q10.2,30.9 8.8,30.9 Q7.4,30.9 7.4,29.5 V15.8 Q7.4,14.2 8.8,14.2Z"/><rect x="27.4" y="5.2" width="1.3" height="45.2"/><circle cx="40.7" cy="10" r="3.1"/><path d="M37.6,14.4 H43.8 L48.4,36.7 H33.1 Z"/><path d="M37.9,15.6 L32.6,29.6 M43.5,15.6 L48.9,29.6" stroke="#5b2620" stroke-width="2.3" stroke-linecap="round" fill="none"/><path d="M37.4,36 H40 V48.3 Q40,49.6 38.7,49.6 Q37.4,49.6 37.4,48.3Z M41.5,36 H44.1 V48.3 Q44.1,49.6 42.8,49.6 Q41.5,49.6 41.5,48.3Z"/></g>
<g transform="translate(1686.5,2213.2) scale(0.8571)" fill="#5b2620"><rect x="0.65" y="0.65" width="54.7" height="54.7" rx="4.5" fill="none" stroke="#5b2620" stroke-width="1.5"/><circle cx="16" cy="9.3" r="3.3"/><path d="M8.8,14.2 H23.2 Q24.6,14.2 24.6,15.8 V29.5 Q24.6,30.9 23.2,30.9 Q21.9,30.9 21.9,29.5 V18.5 H21 V48 Q21,49.6 18.8,49.6 Q16.6,49.6 16.6,48 V32 H15.5 V48 Q15.5,49.6 13.3,49.6 Q11.1,49.6 11.1,48 V18.5 H10.2 V29.5 Q10.2,30.9 8.8,30.9 Q7.4,30.9 7.4,29.5 V15.8 Q7.4,14.2 8.8,14.2Z"/><rect x="27.4" y="5.2" width="1.3" height="45.2"/><circle cx="40.7" cy="10" r="3.1"/><path d="M37.6,14.4 H43.8 L48.4,36.7 H33.1 Z"/><path d="M37.9,15.6 L32.6,29.6 M43.5,15.6 L48.9,29.6" stroke="#5b2620" stroke-width="2.3" stroke-linecap="round" fill="none"/><path d="M37.4,36 H40 V48.3 Q40,49.6 38.7,49.6 Q37.4,49.6 37.4,48.3Z M41.5,36 H44.1 V48.3 Q44.1,49.6 42.8,49.6 Q41.5,49.6 41.5,48.3Z"/></g>
<g transform="translate(1726.8,2298.0) scale(0.9489)" fill="#fff"><rect x="5.6" y="0" width="42.6" height="4.6"/><path d="M5.8,9.1 H49 L54.8,22.4 a6.85,5.6 0 0 1 -13.7,0 a6.85,5.6 0 0 1 -13.7,0 a6.85,5.6 0 0 1 -13.7,0 a6.85,5.6 0 0 1 -13.7,0 Z"/><path d="M3.1,33.2 H7.8 V44.2 H46.1 V33.2 H50.8 V53.2 H3.1Z"/></g>
<g transform="translate(2095.0,1988.0) scale(1.0089)" fill="#5b2620"><rect x="0.65" y="0.65" width="54.7" height="54.7" rx="4.5" fill="none" stroke="#5b2620" stroke-width="1.5"/><rect x="7" y="5.5" width="3.9" height="44.6"/><rect x="45" y="5.5" width="3.9" height="44.6"/><rect x="16.2" y="14.8" width="23.6" height="25.6" fill="none" stroke="#5b2620" stroke-width="1.7"/><path d="M28,3.6 L31.8,8.3 H29.2 V12 H26.8 V8.3 H24.2Z M28,51.9 L31.8,47.5 H29.2 V43.6 H26.8 V47.5 H24.2Z"/><g transform="translate(25.40,19.20) scale(1.000)"><circle cx="0" cy="0" r="1.6"/><path d="M0,2.4 V9.6 H5.4 L7.9,16 H9.6" fill="none" stroke="#5b2620" stroke-width="1.5" stroke-linejoin="round" stroke-linecap="round"/><path d="M0,5.2 H5" fill="none" stroke="#5b2620" stroke-width="1.2" stroke-linecap="round"/><path d="M-1.6,6.6 A5,5 0 1 0 5.6,12.4" fill="none" stroke="#5b2620" stroke-width="1.2"/></g><circle cx="35.6" cy="18.6" r="0.6"/><circle cx="35.6" cy="20.4" r="0.6"/><circle cx="35.6" cy="22.2" r="0.6"/><circle cx="35.6" cy="24.0" r="0.6"/></g>
<g transform="translate(2184.0,1988.0) scale(1.0089)" fill="#5b2620"><rect x="0.65" y="0.65" width="54.7" height="54.7" rx="4.5" fill="#fff" stroke="#5b2620" stroke-width="1.5"/><circle cx="16" cy="9.3" r="3.3"/><path d="M8.8,14.2 H23.2 Q24.6,14.2 24.6,15.8 V29.5 Q24.6,30.9 23.2,30.9 Q21.9,30.9 21.9,29.5 V18.5 H21 V48 Q21,49.6 18.8,49.6 Q16.6,49.6 16.6,48 V32 H15.5 V48 Q15.5,49.6 13.3,49.6 Q11.1,49.6 11.1,48 V18.5 H10.2 V29.5 Q10.2,30.9 8.8,30.9 Q7.4,30.9 7.4,29.5 V15.8 Q7.4,14.2 8.8,14.2Z"/><rect x="27.4" y="5.2" width="1.3" height="45.2"/><circle cx="40.7" cy="10" r="3.1"/><path d="M37.6,14.4 H43.8 L48.4,36.7 H33.1 Z"/><path d="M37.9,15.6 L32.6,29.6 M43.5,15.6 L48.9,29.6" stroke="#5b2620" stroke-width="2.3" stroke-linecap="round" fill="none"/><path d="M37.4,36 H40 V48.3 Q40,49.6 38.7,49.6 Q37.4,49.6 37.4,48.3Z M41.5,36 H44.1 V48.3 Q44.1,49.6 42.8,49.6 Q41.5,49.6 41.5,48.3Z"/></g>
<g transform="translate(29.0,2381.3) scale(1.2135)" fill="#fff"><rect x="5.6" y="0" width="42.6" height="4.6"/><path d="M5.8,9.1 H49 L54.8,22.4 a6.85,5.6 0 0 1 -13.7,0 a6.85,5.6 0 0 1 -13.7,0 a6.85,5.6 0 0 1 -13.7,0 a6.85,5.6 0 0 1 -13.7,0 Z"/><path d="M3.1,33.2 H7.8 V44.2 H46.1 V33.2 H50.8 V53.2 H3.1Z"/></g>
<g transform="translate(340.6,2374.3) scale(1.0000)" fill="#fff"><rect x="1.2" y="1.2" width="77.6" height="76.6" rx="7" fill="none" stroke="#fff" stroke-width="2.4"/><path d="M49.4,23.7 V15 H18.4 V64.5 H49.4 V54.8 H43.6 V58.7 H24.2 V20.8 H43.6 V23.7Z"/><path d="M39,31.3 H55.6 V25.3 L66.2,34.4 L55.6,43.4 V37.5 H39Z"/><path d="M50.1,44.5 H39 V38.2 L28.3,47.5 L39,56.7 V50.7 H50.1Z"/></g>
<g transform="translate(22.0,2483.0) scale(1.4286)" fill="#fff"><rect x="0.65" y="0.65" width="54.7" height="54.7" rx="4.5" fill="none" stroke="#fff" stroke-width="1.7"/><circle cx="16" cy="9.3" r="3.3"/><path d="M8.8,14.2 H23.2 Q24.6,14.2 24.6,15.8 V29.5 Q24.6,30.9 23.2,30.9 Q21.9,30.9 21.9,29.5 V18.5 H21 V48 Q21,49.6 18.8,49.6 Q16.6,49.6 16.6,48 V32 H15.5 V48 Q15.5,49.6 13.3,49.6 Q11.1,49.6 11.1,48 V18.5 H10.2 V29.5 Q10.2,30.9 8.8,30.9 Q7.4,30.9 7.4,29.5 V15.8 Q7.4,14.2 8.8,14.2Z"/><rect x="27.4" y="5.2" width="1.3" height="45.2"/><circle cx="40.7" cy="10" r="3.1"/><path d="M37.6,14.4 H43.8 L48.4,36.7 H33.1 Z"/><path d="M37.9,15.6 L32.6,29.6 M43.5,15.6 L48.9,29.6" stroke="#fff" stroke-width="2.3" stroke-linecap="round" fill="none"/><path d="M37.4,36 H40 V48.3 Q40,49.6 38.7,49.6 Q37.4,49.6 37.4,48.3Z M41.5,36 H44.1 V48.3 Q44.1,49.6 42.8,49.6 Q41.5,49.6 41.5,48.3Z"/></g>
<g transform="translate(22.0,2595.8) scale(1.4286)" fill="#fff"><rect x="0.65" y="0.65" width="54.7" height="54.7" rx="4.5" fill="none" stroke="#fff" stroke-width="1.7"/><g transform="translate(-1.7,7.6) scale(0.70)"><circle cx="16" cy="9.3" r="3.3"/><path d="M8.8,14.2 H23.2 Q24.6,14.2 24.6,15.8 V29.5 Q24.6,30.9 23.2,30.9 Q21.9,30.9 21.9,29.5 V18.5 H21 V48 Q21,49.6 18.8,49.6 Q16.6,49.6 16.6,48 V32 H15.5 V48 Q15.5,49.6 13.3,49.6 Q11.1,49.6 11.1,48 V18.5 H10.2 V29.5 Q10.2,30.9 8.8,30.9 Q7.4,30.9 7.4,29.5 V15.8 Q7.4,14.2 8.8,14.2Z"/></g><g transform="translate(-1.9,7.6) scale(0.70)"><circle cx="40.7" cy="9.3" r="3.2"/><path d="M37.6,14.4 H43.8 L48.4,36.7 H33.1 Z"/><path d="M37.9,15.6 L32.6,29.6 M43.5,15.6 L48.9,29.6" stroke="#fff" stroke-width="2.3" stroke-linecap="round" fill="none"/><path d="M37.4,36 H40 V49.6 H37.4Z M41.5,36 H44.1 V49.6 H41.5Z"/></g><circle cx="17" cy="31" r="1.5"/><path d="M15.5,33.2 H18.5 V42.3 H17.4 V38.5 H16.6 V42.3 H15.5Z"/><path d="M15.6,33.8 L13.4,30.6 M18.4,33.8 L20.6,30.6" stroke="#fff" stroke-width="1" stroke-linecap="round" fill="none"/><g transform="translate(40.60,23.00) scale(1.120)"><circle cx="0" cy="0" r="1.6"/><path d="M0,2.4 V9.6 H5.4 L7.9,16 H9.6" fill="none" stroke="#fff" stroke-width="1.5" stroke-linejoin="round" stroke-linecap="round"/><path d="M0,5.2 H5" fill="none" stroke="#fff" stroke-width="1.2" stroke-linecap="round"/><path d="M-1.6,6.6 A5,5 0 1 0 5.6,12.4" fill="none" stroke="#fff" stroke-width="1.2"/></g></g>
<g transform="translate(22.2,2708.4) scale(1.4286)" fill="#fff"><rect x="0.65" y="0.65" width="54.7" height="54.7" rx="4.5" fill="none" stroke="#fff" stroke-width="1.7"/><rect x="7" y="5.5" width="3.9" height="44.6"/><rect x="45" y="5.5" width="3.9" height="44.6"/><rect x="16.2" y="14.8" width="23.6" height="25.6" fill="none" stroke="#fff" stroke-width="1.7"/><path d="M28,3.6 L31.8,8.3 H29.2 V12 H26.8 V8.3 H24.2Z M28,51.9 L31.8,47.5 H29.2 V43.6 H26.8 V47.5 H24.2Z"/><g transform="translate(25.40,19.20) scale(1.000)"><circle cx="0" cy="0" r="1.6"/><path d="M0,2.4 V9.6 H5.4 L7.9,16 H9.6" fill="none" stroke="#fff" stroke-width="1.5" stroke-linejoin="round" stroke-linecap="round"/><path d="M0,5.2 H5" fill="none" stroke="#fff" stroke-width="1.2" stroke-linecap="round"/><path d="M-1.6,6.6 A5,5 0 1 0 5.6,12.4" fill="none" stroke="#fff" stroke-width="1.2"/></g><circle cx="35.6" cy="18.6" r="0.6"/><circle cx="35.6" cy="20.4" r="0.6"/><circle cx="35.6" cy="22.2" r="0.6"/><circle cx="35.6" cy="24.0" r="0.6"/></g>
<g transform="translate(22.2,2821.7) scale(1.4286)" fill="#fff"><rect x="0.65" y="0.65" width="54.7" height="54.7" rx="4.5" fill="none" stroke="#fff" stroke-width="1.7"/><rect x="7" y="5.5" width="3.9" height="44.6"/><rect x="45" y="5.5" width="3.9" height="44.6"/><rect x="16.2" y="14.8" width="23.6" height="25.6" fill="none" stroke="#fff" stroke-width="1.7"/><path d="M28,3.6 L31.8,8.3 H29.2 V12 H26.8 V8.3 H24.2Z M28,51.9 L31.8,47.5 H29.2 V43.6 H26.8 V47.5 H24.2Z"/><circle cx="23.8" cy="19.6" r="1.6"/><path d="M21.5,21.8 H26.1 V29.6 H25.7 V37.7 H24.2 V30 H23.4 V37.7 H21.9 V29.6 H21.5Z"/><path d="M26,22.6 L30.4,24.2" stroke="#fff" stroke-width="1.1" fill="none"/><circle cx="35.2" cy="21.3" r="0.8"/><circle cx="35.2" cy="24.5" r="0.8"/><circle cx="35.2" cy="27.7" r="0.8"/></g>
<path d="M380.1,2499.4 L386.8,2515.4 L404.1,2516.8 L390.9,2528.1 L394.9,2545.0 L380.1,2535.9 L365.3,2545.0 L369.3,2528.1 L356.1,2516.8 L373.4,2515.4Z" fill="#e60012"/>
<path d="M2088.5,2255.0 L2095.2,2271.2 L2112.8,2272.6 L2099.4,2284.0 L2103.5,2301.1 L2088.5,2292.0 L2073.5,2301.1 L2077.6,2284.0 L2064.2,2272.6 L2081.8,2271.2Z" fill="#e60012"/>
<rect x="340.6" y="2599.3" width="80.4" height="71.7" fill="#b7b2ad" stroke="#1a1210" stroke-width="1.2"/>
<rect x="340.6" y="2712" width="80.4" height="72" fill="#fbd9ca" stroke="#1a1210" stroke-width="1.2"/>
<circle cx="2211.5" cy="2072.5" r="18.3" fill="#c2152c" stroke="#fbe9e4" stroke-width="1.2"/><text x="2211.5" y="2082.8" font-size="29" font-weight="700" fill="#fff" text-anchor="middle">E</text>
<circle cx="1945.0" cy="2190.0" r="18.3" fill="#c2152c" stroke="#fbe9e4" stroke-width="1.2"/><text x="1945.0" y="2200.3" font-size="29" font-weight="700" fill="#fff" text-anchor="middle">D</text>
<circle cx="2028.5" cy="2190.0" r="18.3" fill="#c2152c" stroke="#fbe9e4" stroke-width="1.2"/><text x="2028.5" y="2200.3" font-size="29" font-weight="700" fill="#fff" text-anchor="middle">B</text>
<circle cx="2411.5" cy="2190.0" r="18.3" fill="#c2152c" stroke="#fbe9e4" stroke-width="1.2"/><text x="2411.5" y="2200.3" font-size="29" font-weight="700" fill="#fff" text-anchor="middle">C</text>
<circle cx="2504.0" cy="2190.0" r="18.3" fill="#c2152c" stroke="#fbe9e4" stroke-width="1.2"/><text x="2504.0" y="2200.3" font-size="29" font-weight="700" fill="#fff" text-anchor="middle">F</text>
<circle cx="2211.5" cy="2239.0" r="18.3" fill="#c2152c" stroke="#fbe9e4" stroke-width="1.2"/><text x="2211.5" y="2249.3" font-size="29" font-weight="700" fill="#fff" text-anchor="middle">A</text>
<circle cx="1221.5" cy="711.5" r="18.7" fill="#6ba384"/><text x="1221.5" y="721.8" font-size="29" font-weight="700" fill="#fff" text-anchor="middle">I</text>
<circle cx="1308.5" cy="998.5" r="18.7" fill="#6ba384"/><text x="1308.5" y="1008.8" font-size="29" font-weight="700" fill="#fff" text-anchor="middle">H</text>
<circle cx="1548.3" cy="998.0" r="18.7" fill="#6ba384"/><text x="1548.3" y="1008.3" font-size="29" font-weight="700" fill="#fff" text-anchor="middle">G</text>
<circle cx="1983.0" cy="663.5" r="18.7" fill="#6ba384"/><text x="1983.0" y="673.8" font-size="29" font-weight="700" fill="#fff" text-anchor="middle">J</text>
<circle cx="1551.0" cy="2279.0" r="18.5" fill="#f08300"/><text x="1551.0" y="2289.3" font-size="29" font-weight="700" fill="#fff" text-anchor="middle">K</text>
<circle cx="1550.0" cy="2403.4" r="18.5" fill="#f08300"/><text x="1550.0" y="2413.7" font-size="29" font-weight="700" fill="#fff" text-anchor="middle">L</text>
<circle cx="42.5" cy="1112.8" r="17.8" fill="#c2152c" stroke="#fbe9e4" stroke-width="1.2"/><text x="42.5" y="1123.1" font-size="29" font-weight="700" fill="#fff" text-anchor="middle">A</text>
<circle cx="42.5" cy="1203.9" r="17.8" fill="#c2152c" stroke="#fbe9e4" stroke-width="1.2"/><text x="42.5" y="1214.2" font-size="29" font-weight="700" fill="#fff" text-anchor="middle">B</text>
<circle cx="42.5" cy="1295.0" r="17.8" fill="#c2152c" stroke="#fbe9e4" stroke-width="1.2"/><text x="42.5" y="1305.3" font-size="29" font-weight="700" fill="#fff" text-anchor="middle">C</text>
<circle cx="42.5" cy="1386.1" r="17.8" fill="#c2152c" stroke="#fbe9e4" stroke-width="1.2"/><text x="42.5" y="1396.4" font-size="29" font-weight="700" fill="#fff" text-anchor="middle">D</text>
<circle cx="42.5" cy="1477.2" r="17.8" fill="#c2152c" stroke="#fbe9e4" stroke-width="1.2"/><text x="42.5" y="1487.5" font-size="29" font-weight="700" fill="#fff" text-anchor="middle">E</text>
<circle cx="42.5" cy="1568.3" r="17.8" fill="#c2152c" stroke="#fbe9e4" stroke-width="1.2"/><text x="42.5" y="1578.6" font-size="29" font-weight="700" fill="#fff" text-anchor="middle">F</text>
<circle cx="37.4" cy="1746.0" r="18.3" fill="#6ba384"/><text x="37.4" y="1756.3" font-size="29" font-weight="700" fill="#fff" text-anchor="middle">G</text>
<circle cx="37.4" cy="1836.8" r="18.3" fill="#6ba384"/><text x="37.4" y="1847.1" font-size="29" font-weight="700" fill="#fff" text-anchor="middle">H</text>
<circle cx="37.4" cy="1926.7" r="18.3" fill="#6ba384"/><text x="37.4" y="1937.0" font-size="29" font-weight="700" fill="#fff" text-anchor="middle">I</text>
<circle cx="37.4" cy="2017.0" r="18.3" fill="#6ba384"/><text x="37.4" y="2027.3" font-size="29" font-weight="700" fill="#fff" text-anchor="middle">J</text>
<circle cx="37.4" cy="2217.6" r="18.3" fill="#f08300"/><text x="37.4" y="2227.9" font-size="29" font-weight="700" fill="#fff" text-anchor="middle">K</text>
<circle cx="37.4" cy="2310.0" r="18.3" fill="#f08300"/><text x="37.4" y="2320.3" font-size="29" font-weight="700" fill="#fff" text-anchor="middle">L</text>
<text x="596.4" y="151.0" font-size="166" font-weight="900" fill="#fff" textLength="1573.3" lengthAdjust="spacing">荆州博物馆导览图</text>
<text x="627.6" y="289.5" font-size="85" font-weight="400" fill="#fff" textLength="1503.0" lengthAdjust="spacingAndGlyphs">GUIDE MAP OF JINGZHOU MUSEUM</text>
<text x="20.5" y="1052.0" font-size="49" font-weight="900" fill="#fff" textLength="157.1" lengthAdjust="spacing">陈列馆</text>
<text x="208.9" y="1049.5" font-size="36.8" font-weight="700" fill="#fff" textLength="365.5" lengthAdjust="spacingAndGlyphs">EXHIBITION CENTER</text>
<text x="19.5" y="1686.0" font-size="50" font-weight="900" fill="#fff" textLength="158.5" lengthAdjust="spacing">珍品馆</text>
<text x="209.2" y="1684.0" font-size="37" font-weight="700" fill="#fff" textLength="324.9" lengthAdjust="spacingAndGlyphs">TREASURE HOUSE</text>
<text x="19.5" y="2157.5" font-size="50" font-weight="900" fill="#fff" textLength="210.5" lengthAdjust="spacing">游客中心</text>
<text x="267.5" y="2155.0" font-size="37" font-weight="700" fill="#fff" textLength="277.6" lengthAdjust="spacingAndGlyphs">VISITOR CENTER</text>
<text x="65.6" y="1125.4" font-size="34" font-weight="300" fill="#fff" textLength="311.7" lengthAdjust="spacing">《火中的凤凰》壁画</text>
<text x="81.0" y="1145.8" font-size="17.5" font-weight="400" fill="#fff" textLength="331.5" lengthAdjust="spacingAndGlyphs">THE PHOENIX IN FIRE &quot;MURAL PAINTING</text>
<text x="648.6" y="1127.3" font-size="35.5" font-weight="300" fill="#fff" textLength="38.5" lengthAdjust="spacingAndGlyphs">1F</text>
<text x="80.3" y="1216.6" font-size="34" font-weight="300" fill="#fff" textLength="248.0" lengthAdjust="spacing">荆州出土铜器展</text>
<text x="81.0" y="1237.0" font-size="17.5" font-weight="400" fill="#fff" textLength="439.5" lengthAdjust="spacingAndGlyphs">JINGZHOU UNEARTHED BRONZE WARE EXHIBITION</text>
<text x="648.6" y="1218.5" font-size="35.5" font-weight="300" fill="#fff" textLength="38.5" lengthAdjust="spacingAndGlyphs">1F</text>
<text x="80.3" y="1307.6" font-size="34" font-weight="300" fill="#fff" textLength="319.4" lengthAdjust="spacing">江汉平原原始文化展</text>
<text x="81.0" y="1328.0" font-size="17.5" font-weight="400" fill="#fff" textLength="427.5" lengthAdjust="spacingAndGlyphs">JIANGHAN PLAIN PRIMITIVE CULTURE EXHIBITION</text>
<text x="648.6" y="1309.5" font-size="35.5" font-weight="300" fill="#fff" textLength="38.5" lengthAdjust="spacingAndGlyphs">1F</text>
<text x="80.3" y="1398.6" font-size="34" font-weight="300" fill="#fff" textLength="248.7" lengthAdjust="spacing">荆州出土瓷器展</text>
<text x="81.0" y="1419.0" font-size="17.5" font-weight="400" fill="#fff" textLength="423.5" lengthAdjust="spacingAndGlyphs">JINGZHOU UNEARTHED PORCELAIN EXHIBITIONE</text>
<text x="648.6" y="1400.5" font-size="35.5" font-weight="300" fill="#fff" textLength="38.5" lengthAdjust="spacingAndGlyphs">2F</text>
<text x="80.3" y="1489.6" font-size="34" font-weight="300" fill="#fff" textLength="248.7" lengthAdjust="spacing">荆州出土简牍展</text>
<text x="81.0" y="1510.0" font-size="17.5" font-weight="400" fill="#fff" textLength="435.5" lengthAdjust="spacingAndGlyphs">JINGZHOU EXCAVATED BAMBOO SLIPS EXHIBITION</text>
<text x="648.6" y="1491.5" font-size="35.5" font-weight="300" fill="#fff" textLength="38.5" lengthAdjust="spacingAndGlyphs">2F</text>
<text x="80.3" y="1581.0" font-size="34" font-weight="300" fill="#fff" textLength="248.7" lengthAdjust="spacing">荆州出土玉器展</text>
<text x="81.0" y="1601.4" font-size="17.5" font-weight="400" fill="#fff" textLength="358.2" lengthAdjust="spacingAndGlyphs">JINGZHOU UNEARTHED JADE EXHIBITION</text>
<text x="648.6" y="1582.9" font-size="35.5" font-weight="300" fill="#fff" textLength="38.5" lengthAdjust="spacingAndGlyphs">2F</text>
<text x="65.3" y="1758.6" font-size="34" font-weight="300" fill="#fff" textLength="105.0" lengthAdjust="spacing">放映厅</text>
<text x="66.0" y="1776.6" font-size="17.5" font-weight="400" fill="#fff" textLength="159.0" lengthAdjust="spacingAndGlyphs">PROJECTION HALL</text>
<text x="650.2" y="1756.0" font-size="35.5" font-weight="300" fill="#fff" textLength="38.5" lengthAdjust="spacingAndGlyphs">1F</text>
<text x="65.3" y="1849.4" font-size="34" font-weight="300" fill="#fff" textLength="176.9" lengthAdjust="spacing">互动体验厅</text>
<text x="66.0" y="1867.4" font-size="17.5" font-weight="400" fill="#fff" textLength="273.0" lengthAdjust="spacingAndGlyphs">INTERACTIVE EXPERIENCE HALL</text>
<text x="650.2" y="1846.8" font-size="35.5" font-weight="300" fill="#fff" textLength="38.5" lengthAdjust="spacingAndGlyphs">1F</text>
<text x="65.3" y="1939.3" font-size="34" font-weight="300" fill="#fff" textLength="510.2" lengthAdjust="spacing">五大夫遂一一凤凰山168号汉墓展</text>
<text x="66.0" y="1957.3" font-size="17.5" font-weight="400" fill="#fff" textLength="559.0" lengthAdjust="spacingAndGlyphs">WUDAFU—EXHIBITION OF NO.168 HAN TOMB FROM FENGHUANGSHAN</text>
<text x="650.2" y="1936.7" font-size="35.5" font-weight="300" fill="#fff" textLength="38.5" lengthAdjust="spacingAndGlyphs">2F</text>
<text x="65.3" y="2029.6" font-size="34" font-weight="300" fill="#fff" textLength="484.4" lengthAdjust="spacing">丹漆神韵一一楚秦汉漆器精品展</text>
<text x="66.0" y="2047.6" font-size="17.5" font-weight="400" fill="#fff" textLength="541.8" lengthAdjust="spacingAndGlyphs">ROMANTIC CHARM OF THE CRIMSON LACQUERS—EXHIBITIONS</text>
<text x="650.2" y="2027.0" font-size="35.5" font-weight="300" fill="#fff" textLength="75.1" lengthAdjust="spacingAndGlyphs">1-2F</text>
<text x="66.0" y="2067.7" font-size="17.5" font-weight="400" fill="#fff" textLength="481.5" lengthAdjust="spacingAndGlyphs">OF FINE LACQUERS FROM CHU,QIN AND HAN DYNASTIES</text>
<text x="65.3" y="2230.2" font-size="34" font-weight="300" fill="#fff" textLength="140.0" lengthAdjust="spacing">安全保卫</text>
<text x="64.7" y="2251.0" font-size="17.5" font-weight="400" fill="#fff" textLength="99.2" lengthAdjust="spacingAndGlyphs">SECURITY</text>
<text x="650.2" y="2230.1" font-size="35.5" font-weight="300" fill="#fff" textLength="38.5" lengthAdjust="spacingAndGlyphs">1F</text>
<text x="65.3" y="2322.6" font-size="34" font-weight="300" fill="#fff" textLength="106.0" lengthAdjust="spacing">医疗点</text>
<text x="64.7" y="2343.0" font-size="17.5" font-weight="400" fill="#fff" textLength="64.8" lengthAdjust="spacingAndGlyphs">CLINIC</text>
<text x="650.2" y="2315.7" font-size="35.5" font-weight="300" fill="#fff" textLength="38.5" lengthAdjust="spacingAndGlyphs">1F</text>
<text x="119.8" y="2417.0" font-size="30" font-weight="700" fill="#fff" textLength="129.1" lengthAdjust="spacing">文创商店</text>
<text x="120.3" y="2438.6" font-size="16.5" font-weight="700" fill="#fff" textLength="50.2" lengthAdjust="spacingAndGlyphs">STORE</text>
<text x="439.8" y="2417.0" font-size="30" font-weight="700" fill="#fff" textLength="93.4" lengthAdjust="spacing">出入口</text>
<text x="440.3" y="2438.6" font-size="16.5" font-weight="700" fill="#fff" textLength="137.8" lengthAdjust="spacingAndGlyphs">EXIT AND ENTRANCE</text>
<text x="120.2" y="2524.0" font-size="30" font-weight="700" fill="#fff" textLength="94.4" lengthAdjust="spacing">卫生间</text>
<text x="120.8" y="2546.8" font-size="16" font-weight="700" fill="#fff" textLength="113.9" lengthAdjust="spacingAndGlyphs">RESTROOMS</text>
<text x="445.8" y="2524.0" font-size="30" font-weight="700" fill="#fff" textLength="129.4" lengthAdjust="spacing">您的位置</text>
<text x="446.4" y="2546.8" font-size="16" font-weight="700" fill="#fff" textLength="124.1" lengthAdjust="spacingAndGlyphs">YOUR LOCATION</text>
<text x="119.8" y="2637.0" font-size="30" font-weight="700" fill="#fff" textLength="159.6" lengthAdjust="spacing">家庭卫生间</text>
<text x="122.6" y="2660.0" font-size="16.5" font-weight="700" fill="#fff" textLength="154.9" lengthAdjust="spacingAndGlyphs">FAMILY RESTROOMS</text>
<text x="445.8" y="2637.0" font-size="30" font-weight="700" fill="#fff" textLength="130.4" lengthAdjust="spacing">办公区域</text>
<text x="446.3" y="2660.0" font-size="16.5" font-weight="700" fill="#fff" textLength="99.6" lengthAdjust="spacingAndGlyphs">OFFICE AREA</text>
<text x="118.8" y="2750.5" font-size="30" font-weight="700" fill="#fff" textLength="161.4" lengthAdjust="spacing">无障碍电梯</text>
<text x="118.4" y="2772.6" font-size="16" font-weight="700" fill="#fff" textLength="160.6" lengthAdjust="spacingAndGlyphs">ACCESSIBLE ELEVATOR</text>
<text x="437.5" y="2750.5" font-size="30" font-weight="700" fill="#fff" textLength="130.2" lengthAdjust="spacing">展示区域</text>
<text x="438.1" y="2772.6" font-size="16" font-weight="700" fill="#fff" textLength="107.8" lengthAdjust="spacingAndGlyphs">DISPLAY AREA</text>
<text x="118.8" y="2864.0" font-size="30" font-weight="700" fill="#fff" textLength="60.8" lengthAdjust="spacing">电梯</text>
<text x="120.1" y="2883.8" font-size="15.5" font-weight="700" fill="#fff" textLength="68.6" lengthAdjust="spacingAndGlyphs">Elevator</text>
<text x="723.7" y="598.0" font-size="33" font-weight="700" fill="#1d1411" textLength="107.6" lengthAdjust="spacing">办公区</text>
<text x="707.0" y="612.5" font-size="13.5" font-weight="700" fill="#1d1411" textLength="142.4" lengthAdjust="spacingAndGlyphs">ADMINISTRATIVE AREA</text>
<text x="723.4" y="635.0" font-size="16" font-weight="400" fill="#1d1411" textLength="109.8" lengthAdjust="spacing" class="jp">オフィスエリア</text>
<text x="744.5" y="650.0" font-size="13.375" font-weight="500" fill="#1d1411" textLength="68.6" lengthAdjust="spacing" class="kr">사무실 구역</text>
<text x="1691.2" y="638.0" font-size="33" font-weight="700" fill="#1d1411" textLength="107.6" lengthAdjust="spacing">珍品馆</text>
<text x="1689.5" y="652.5" font-size="13.5" font-weight="700" fill="#1d1411" textLength="114.9" lengthAdjust="spacingAndGlyphs">TREASURE HOUSE</text>
<text x="1654.4" y="674.0" font-size="16" font-weight="400" fill="#1d1411" textLength="176.3" lengthAdjust="spacing" class="jp">トレジャーズギャウリー</text>
<text x="1727.0" y="690.0" font-size="13.375" font-weight="500" fill="#1d1411" textLength="37.1" lengthAdjust="spacing" class="kr">진품관</text>
<text x="1084.6" y="1448.0" font-size="34" font-weight="700" fill="#1d1411" textLength="107.7" lengthAdjust="spacing">祖师殿</text>
<text x="1085.5" y="1462.5" font-size="13.5" font-weight="700" fill="#1d1411" textLength="104.9" lengthAdjust="spacingAndGlyphs">ANCESTOR HALL</text>
<text x="1111.8" y="1485.0" font-size="17" font-weight="400" fill="#1d1411" textLength="53.9" lengthAdjust="spacing" class="jp">祖师殿</text>
<text x="1118.5" y="1499.0" font-size="13.375" font-weight="500" fill="#1d1411" textLength="39.6" lengthAdjust="spacing" class="kr">조사전</text>
<text x="1091.2" y="1915.5" font-size="33" font-weight="700" fill="#1d1411" textLength="102.6" lengthAdjust="spacing">三清殿</text>
<text x="1091.0" y="1929.0" font-size="13.5" font-weight="700" fill="#1d1411" textLength="101.9" lengthAdjust="spacingAndGlyphs">SANQING HALL</text>
<text x="1115.3" y="1952.0" font-size="17" font-weight="400" fill="#1d1411" textLength="53.9" lengthAdjust="spacing" class="jp">三清殿</text>
<text x="1122.0" y="1966.5" font-size="13.375" font-weight="500" fill="#1d1411" textLength="40.1" lengthAdjust="spacing" class="kr">삼청전</text>
<text x="1084.6" y="2302.0" font-size="34" font-weight="700" fill="#1d1411" textLength="107.7" lengthAdjust="spacing">雷神殿</text>
<text x="1080.5" y="2316.5" font-size="13.5" font-weight="700" fill="#1d1411" textLength="116.4" lengthAdjust="spacingAndGlyphs">THUNDER TEMPLE</text>
<text x="1111.8" y="2339.0" font-size="17" font-weight="400" fill="#1d1411" textLength="53.9" lengthAdjust="spacing" class="jp">雷神殿</text>
<text x="1118.5" y="2354.0" font-size="13.375" font-weight="500" fill="#1d1411" textLength="39.6" lengthAdjust="spacing" class="kr">뇌신전</text>
<text x="1572.7" y="1629.0" font-size="32" font-weight="700" fill="#1d1411" textLength="136.0" lengthAdjust="spacing">临时展区</text>
<text x="1544.0" y="1649.0" font-size="12.5" font-weight="700" fill="#1d1411" textLength="191.8" lengthAdjust="spacingAndGlyphs">TEMPORARY EXHIBITION AREA</text>
<text x="1594.3" y="1670.5" font-size="17" font-weight="400" fill="#1d1411" textLength="87.4" lengthAdjust="spacing" class="jp">仮設展示区</text>
<text x="1605.2" y="1685.0" font-size="13.91" font-weight="500" fill="#1d1411" textLength="70.3" lengthAdjust="spacing" class="kr">임시 전시실</text>
<text x="1539.8" y="2334.5" font-size="37" font-weight="700" fill="#fff" textLength="162.9" lengthAdjust="spacing">游客中心</text>
<text x="1563.5" y="2352.6" font-size="13.5" font-weight="700" fill="#fff" textLength="119.3" lengthAdjust="spacingAndGlyphs">VISITOR CENTER</text>
<text x="1548.1" y="2375.5" font-size="18" font-weight="400" fill="#fff" textLength="149.6" lengthAdjust="spacing" class="jp">ビジターセンター</text>
<text x="1583.4" y="2394.0" font-size="14.98" font-weight="500" fill="#fff" textLength="78.9" lengthAdjust="spacing" class="kr">관광객 센터</text>
<text x="2157.5" y="1404.0" font-size="33" font-weight="700" fill="#1d1411" textLength="107.2" lengthAdjust="spacing">办公区</text>
<text x="2140.1" y="1420.0" font-size="13.5" font-weight="700" fill="#1d1411" textLength="143.3" lengthAdjust="spacingAndGlyphs">ADMINISTRATIVE AREA</text>
<text x="2157.4" y="1441.0" font-size="15.5" font-weight="400" fill="#1d1411" textLength="108.9" lengthAdjust="spacing" class="jp">オフィスエリア</text>
<text x="2177.5" y="1457.0" font-size="13.375" font-weight="500" fill="#1d1411" textLength="69.1" lengthAdjust="spacing" class="kr">사무실 구역</text>
<text x="2143.7" y="2146.0" font-size="33" font-weight="700" fill="#1d1411" textLength="103.6" lengthAdjust="spacing">陈列馆</text>
<text x="2133.5" y="2160.0" font-size="13.5" font-weight="700" fill="#1d1411" textLength="129.4" lengthAdjust="spacingAndGlyphs">EXHIBITION CENTER</text>
<text x="2181.8" y="2182.0" font-size="17" font-weight="300" fill="#1d1411" textLength="36.4" lengthAdjust="spacing" class="jp">展示</text>
<text x="2157.2" y="2195.5" font-size="8.5" font-weight="400" fill="#1d1411" textLength="38.2" lengthAdjust="spacing" class="jp">ホール</text>
<text x="2202.0" y="2196.5" font-size="12.5" font-weight="500" fill="#1d1411" textLength="41.0" lengthAdjust="spacing" class="kr">진열관</text>
<text x="2404.4" y="1191.5" font-size="35" font-weight="700" fill="#fff" textLength="106.8" lengthAdjust="spacing">出入口</text>
<text x="2377.1" y="1206.5" font-size="13" font-weight="700" fill="#fff" textLength="159.3" lengthAdjust="spacingAndGlyphs">EXIT AND ENTRANCE</text>
<text x="2430.9" y="1227.0" font-size="16.5" font-weight="400" fill="#fff" textLength="51.3" lengthAdjust="spacing" class="jp">出入口</text>
<text x="2434.4" y="1243.0" font-size="13.91" font-weight="500" fill="#fff" textLength="38.8" lengthAdjust="spacing" class="kr">출입구</text>
<text x="2083.5" y="2715.0" font-size="37" font-weight="700" fill="#fff" textLength="115.5" lengthAdjust="spacing">出入口</text>
<text x="2054.4" y="2732.5" font-size="14" font-weight="700" fill="#fff" textLength="171.0" lengthAdjust="spacingAndGlyphs">EXIT AND ENTRANCE</text>
<text x="2111.8" y="2755.0" font-size="18" font-weight="400" fill="#fff" textLength="56.4" lengthAdjust="spacing" class="jp">出入口</text>
<text x="2115.4" y="2771.5" font-size="14.445" font-weight="500" fill="#fff" textLength="42.7" lengthAdjust="spacing" class="kr">출입구</text>
<text x="1024.5" y="2656.5" font-size="38" font-weight="500" fill="#fff" textLength="200.4" lengthAdjust="spacing">开元观山门</text>
<text x="1046.4" y="2673.8" font-size="14.5" font-weight="700" fill="#fff" textLength="163.5" lengthAdjust="spacingAndGlyphs">KAIYUAN TEMPLE GATE</text>
<text x="1077.5" y="2698.0" font-size="19" font-weight="400" fill="#fff" textLength="100.4" lengthAdjust="spacing" class="jp">開元観山門</text>
<text x="1091.7" y="2715.5" font-size="16.05" font-weight="500" fill="#fff" textLength="77.0" lengthAdjust="spacing" class="kr">산문을 열다</text>
<text x="2058.9" y="2337.5" font-size="26.5" font-weight="900" fill="#e60012" textLength="117.1" lengthAdjust="spacing">您的位置</text>
<text x="1622.4" y="2836.0" font-size="41" font-weight="900" fill="#000" textLength="259.3" lengthAdjust="spacing">荆州中路</text>
<text transform="translate(2680.0,1889.7) rotate(90)" font-size="33" font-weight="700" fill="#1d1411" textLength="106.6" lengthAdjust="spacing">办公区</text>
<text transform="translate(2665.7,1873.5) rotate(90)" font-size="13.5" font-weight="700" fill="#1d1411" textLength="142.1" lengthAdjust="spacingAndGlyphs">ADMINISTRATIVE AREA</text>
<text transform="translate(2645.3,1889.4) rotate(90)" font-size="16" font-weight="300" fill="#1d1411" textLength="111.3" lengthAdjust="spacing" class="jp">オフィスエリア</text>
<text transform="translate(2629.0,1911.0) rotate(90)" font-size="12.5" font-weight="500" fill="#1d1411" textLength="67.0" lengthAdjust="spacing" class="kr">사무실 구역</text>
</svg></body></html>
